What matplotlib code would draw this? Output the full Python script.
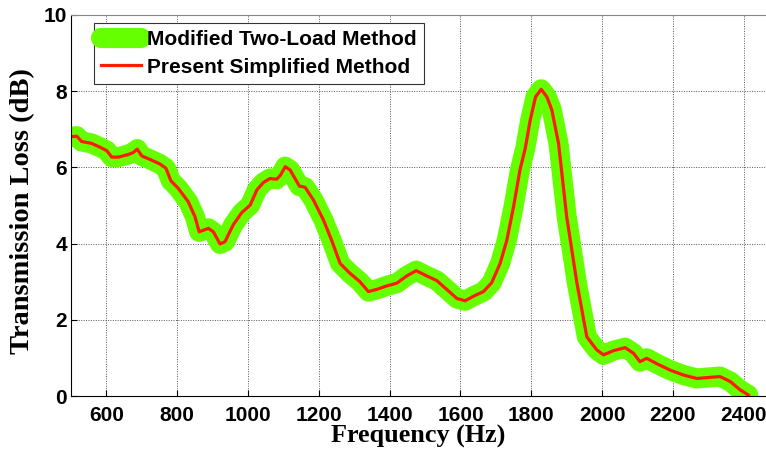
import numpy as np
import matplotlib.pyplot as plt

# frequency (Hz) and transmission loss (dB)
freq = [505, 516, 530, 558, 582, 601, 615, 634, 662, 676, 687, 700, 723, 751, 768,
        782, 803, 831, 850, 862, 888, 902, 921, 935, 958, 982, 1006, 1025, 1043, 1062,
        1081, 1092, 1105, 1119, 1145, 1161, 1185, 1213, 1236, 1260, 1288, 1316, 1340,
        1364, 1392, 1420, 1448, 1475, 1505, 1533, 1561, 1590, 1613, 1637, 1665, 1688,
        1712, 1731, 1750, 1768, 1783, 1797, 1812, 1828, 1844, 1858, 1877, 1900, 1929,
        1957, 1985, 2004, 2032, 2065, 2089, 2107, 2126, 2154, 2192, 2230, 2268, 2305,
        2333, 2362, 2390, 2413]
tl = [6.81, 6.82, 6.68, 6.63, 6.53, 6.44, 6.27, 6.27, 6.34, 6.39, 6.48, 6.30, 6.21,
      6.09, 5.98, 5.65, 5.45, 5.10, 4.71, 4.31, 4.40, 4.31, 3.99, 4.05, 4.49, 4.81,
      5.01, 5.41, 5.60, 5.71, 5.69, 5.80, 6.02, 5.93, 5.51, 5.48, 5.14, 4.62, 4.09,
      3.48, 3.22, 3.00, 2.74, 2.80, 2.89, 2.96, 3.15, 3.29, 3.15, 3.03, 2.80, 2.56,
      2.50, 2.62, 2.74, 2.97, 3.48, 4.09, 4.97, 5.93, 6.50, 7.24, 7.85, 8.05, 7.85,
      7.51, 6.63, 4.71, 2.96, 1.55, 1.21, 1.08, 1.19, 1.27, 1.12, 0.90, 0.99, 0.85,
      0.68, 0.55, 0.46, 0.49, 0.51, 0.38, 0.16, 0.03]

xticks = [600, 800, 1000, 1200, 1400, 1600, 1800, 2000, 2200, 2400]
yticks = [0, 2, 4, 6, 8, 10]

fig = plt.figure(figsize=(7.66, 4.54), dpi=100)
ax = fig.add_axes([71 / 766, 58 / 454, 695 / 766, 381 / 454])

ax.plot(freq, tl, color="#66ff00", lw=14.5, solid_joinstyle="round",
        solid_capstyle="round", label="Modified Two-Load Method")
ax.plot(freq, tl, color="#ff1a00", lw=2.3, label="Present Simplified Method")

ax.set_xlim(500, 2463)
ax.set_ylim(0, 10)
ax.set_xticks(xticks)
ax.set_yticks(yticks)
ax.tick_params(direction="in", length=4, labelsize=15)
ax.tick_params(axis="x", pad=7)
ax.tick_params(axis="y", pad=3)
for lab in ax.get_xticklabels() + ax.get_yticklabels():
    lab.set_fontfamily("Liberation Sans")
    lab.set_fontweight("bold")
ax.grid(True, color="#555555", linestyle=(0, (1, 1.5)), linewidth=0.7)
ax.spines["right"].set_visible(False)
ax.spines["top"].set_color("#888888")

ax.set_xlabel("Frequency (Hz)", fontfamily="Liberation Serif", fontweight="bold",
              fontsize=18.8, labelpad=0)
ax.set_ylabel("Transmission Loss (dB)", fontfamily="Liberation Serif", fontweight="bold",
              fontsize=20.5, labelpad=4)
ax.yaxis.set_label_coords(-0.052, 0.485)

leg = ax.legend(loc="upper left", bbox_to_anchor=(0.033, 0.98), fancybox=False,
                prop={"family": "Liberation Sans", "weight": "bold", "size": 15},
                handlelength=1.9, borderpad=0.35, labelspacing=0.42, handletextpad=0.3,
                borderaxespad=0)
leg.get_frame().set_edgecolor("#333333")
leg.get_frame().set_linewidth(0.8)
leg.get_frame().set_alpha(1)

fig.savefig("out.png", dpi=100)
